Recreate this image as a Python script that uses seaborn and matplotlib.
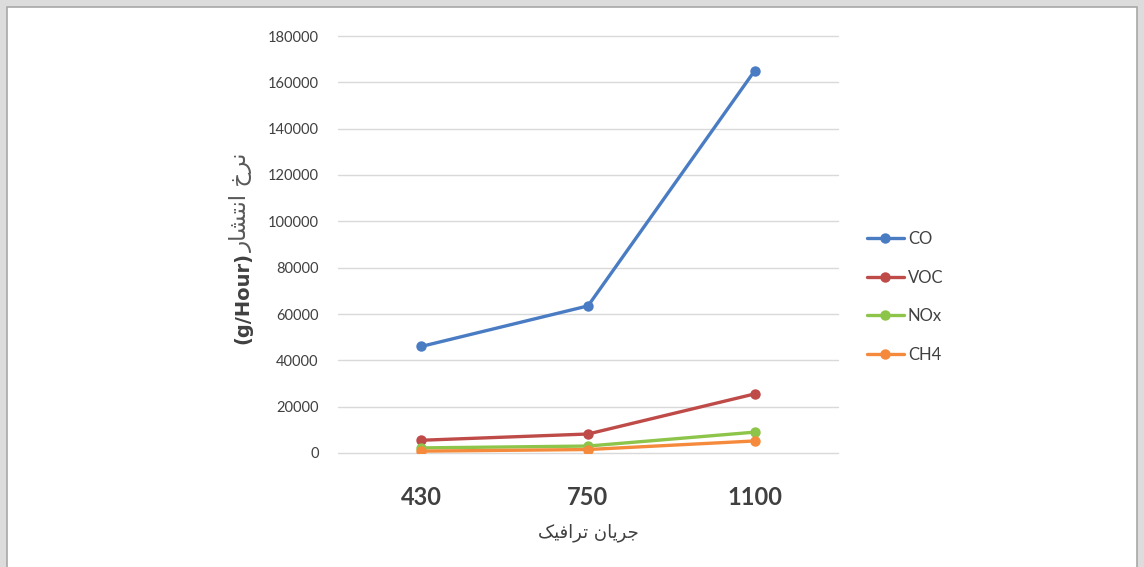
import matplotlib
matplotlib.use("Agg")
import matplotlib.pyplot as plt
from matplotlib.patches import Rectangle
import seaborn as sns
import pandas as pd

# Traffic flow levels (vehicles) and emission rates (g/Hour)
traffic = ["430", "750", "1100"]
co = [46000, 63500, 165000]
voc = [5500, 8200, 25500]
nox = [2200, 3000, 9000]
ch4 = [800, 1500, 5200]
pollutants = ["CO", "VOC", "NOx", "CH4"]
y_ticks = [0, 20000, 40000, 60000, 80000, 100000, 120000, 140000, 160000, 180000]

x_title = "جریان ترافیک"
y_title_fa = "نرخ انتشار"
y_title_unit = "(g/Hour)"

# Minimal Arabic-script shaping so matplotlib can render joined, right-to-left text
FORMS = {
    "ا": ("\uFE8D", "\uFE8E", None, None),
    "ر": ("\uFEAD", "\uFEAE", None, None),
    "ن": ("\uFEE5", "\uFEE6", "\uFEE7", "\uFEE8"),
    "خ": ("\uFEA5", "\uFEA6", "\uFEA7", "\uFEA8"),
    "ت": ("\uFE95", "\uFE96", "\uFE97", "\uFE98"),
    "ش": ("\uFEB5", "\uFEB6", "\uFEB7", "\uFEB8"),
    "ج": ("\uFE9D", "\uFE9E", "\uFE9F", "\uFEA0"),
    "ی": ("\uFBFC", "\uFBFD", "\uFBFE", "\uFBFF"),
    "ف": ("\uFED1", "\uFED2", "\uFED3", "\uFED4"),
    "ک": ("\uFB8E", "\uFB8F", "\uFB90", "\uFB91"),
}


def joins_left(ch):
    return ch in FORMS and FORMS[ch][2] is not None


def shape_rtl(text):
    out = []
    for i, ch in enumerate(text):
        if ch not in FORMS:
            out.append(ch)
            continue
        prev = text[i - 1] if i > 0 else ""
        nxt = text[i + 1] if i + 1 < len(text) else ""
        p = joins_left(prev)
        n = joins_left(ch) and nxt in FORMS
        iso, fin, ini, med = FORMS[ch]
        if p and n:
            out.append(med)
        elif p:
            out.append(fin)
        elif n:
            out.append(ini)
        else:
            out.append(iso)
    return "".join(reversed(out))


df = pd.DataFrame({
    "traffic": traffic * 4,
    "value": co + voc + nox + ch4,
    "pollutant": [p for p in pollutants for _ in traffic],
})

palette = {"CO": "#4A7CC4", "VOC": "#BE4B48", "NOx": "#8DC44A", "CH4": "#F58A3C"}
text_color = "#404040"

sns.set_style("white")
plt.rcParams["font.family"] = ["Lato", "DejaVu Sans"]

W, H = 1144, 567
fig = plt.figure(figsize=(W / 100, H / 100), dpi=100, facecolor="#DCDCDC")
# white panel framed by a thin grey border
panel = Rectangle((7 / W, -0.02), 1130 / W, 1 - 7 / H + 0.02,
                  transform=fig.transFigure, facecolor="white",
                  edgecolor="#A8A8A8", linewidth=1.2, zorder=-10)
fig.patches.append(panel)

ax = fig.add_axes([338 / W, 1 - 453 / H, 500 / W, 417 / H])
ax.set_facecolor("none")
ax.set_zorder(1)

sns.lineplot(data=df, x="traffic", y="value", hue="pollutant", hue_order=pollutants,
             palette=palette, marker="o", markersize=7.5, markeredgewidth=0,
             linewidth=2.4, sort=False, ax=ax, legend=True)

ax.set_xlim(-0.5, len(traffic) - 0.5)
ax.set_ylim(0, 180000)
ax.set_yticks(y_ticks)
ax.set_yticklabels([str(v) for v in y_ticks])
ax.grid(axis="y", color="#D9D9D9", linewidth=1)
ax.set_axisbelow(True)
for gl in ax.yaxis.get_gridlines():
    gl.set_clip_on(False)
for s in ax.spines.values():
    s.set_visible(False)
ax.tick_params(axis="both", length=0)
ax.tick_params(axis="y", pad=14, labelsize=10.5, labelcolor=text_color)
ax.tick_params(axis="x", pad=24, labelsize=17, labelcolor=text_color)
for lbl in ax.get_xticklabels():
    lbl.set_fontweight("bold")

ax.set_xlabel(shape_rtl(x_title), fontsize=13, color=text_color,
              family=["DejaVu Sans"], labelpad=10)
ax.set_ylabel("")

# y-axis title: bold unit below, Persian words above, reading bottom to top
fig.text(243 / W, 1 - 344 / H, y_title_unit, rotation=90, ha="center", va="bottom",
         fontsize=14, fontweight="bold", color=text_color, family=["DejaVu Sans"])
fig.text(241 / W, 1 - 252 / H, shape_rtl(y_title_fa), rotation=90, ha="center",
         va="bottom", fontsize=16.5, color="#595959", family=["DejaVu Sans"])

handles, labels = ax.get_legend_handles_labels()
ax.get_legend().remove()
leg = fig.legend(handles, labels, loc="center left",
                 bbox_to_anchor=(852 / W, 1 - 297 / H), frameon=False,
                 fontsize=12, handlelength=2.2, labelspacing=1.35, handletextpad=0.25)
for t in leg.get_texts():
    t.set_color(text_color)

fig.savefig("out.png", dpi=100, facecolor=fig.get_facecolor())
